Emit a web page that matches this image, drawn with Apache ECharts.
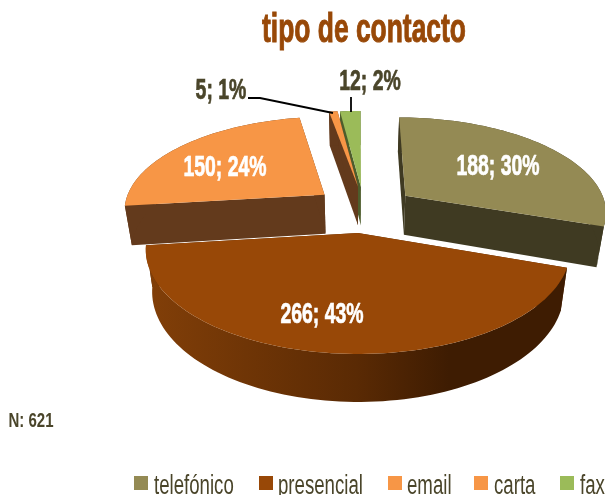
<!DOCTYPE html>
<html><head><meta charset="utf-8">
<style>html,body{margin:0;padding:0;background:#fff}#c{width:605px;height:495px}</style>
<script src="https://cdn.jsdelivr.net/npm/echarts@6/dist/echarts.min.js"></script>
</head><body><div id="c"></div>
<script>
const categories = ['telefónico','presencial','email','carta','fax'];
const values = [188,266,150,5,12];
const sampleSize = 'N: 621';
const chartTitle = 'tipo de contacto';

// styles
const topColors = ['#948a54','#984807','#f79646','#f79646','#9bbb59'];
const sideColors = ['#3f3a22','#5a2a04','#633a1c','#633a1c','#4d5d2c'];
const textDark = '#4a452a';
const fontName = '"Liberation Sans"';

// layout: projected pie disc
const cx=358, cy=233, rx=209.5, ry=101.6, persp=0.16;
// explosion of each slice on the disc plane [right, back]
const explode = [[0.24,0.39],[0,0],[-0.17,0.40],[0.0,0.49],[0.015,0.488]];
const labelPos = [[498,167],[322,315],[225,168],[221,91],[370,82]];
const labelFill = ['#fff','#fff','#fff',textDark,textDark];
const drawOrder = [4,3,2,0,1];
const leaderLines = {3:[[248,98],[260,98],[333,113]], 4:[[351,97],[351,112]]};
const legendSwatchX = [134,259,388,474,560];
const legendTextX = [154,278,407,494,580];

const total = values.reduce((a,b)=>a+b,0);
function sliceAngles(i){
  let s=0; for(let k=0;k<i;k++) s+=values[k];
  return [s/total*2*Math.PI,(s+values[i])/total*2*Math.PI];
}
function project(u,v){const w=1+persp*v;return [cx+rx*u/w,cy-ry*v/w];}
function lower(p){return [cx+(p[0]-cx)*0.97,p[1]+39+0.057*(p[1]-196)];}

function renderSlice(params){
  const i=categories.indexOf(params.seriesName);
  const [a0,a1]=sliceAngles(i), [du,dv]=explode[i];
  const n=Math.max(2,Math.ceil((a1-a0)/0.03));
  const arc=[];
  for(let k=0;k<=n;k++){const t=a0+(a1-a0)*k/n;arc.push(project(du+Math.sin(t),dv+Math.cos(t)));}
  const apex=project(du,dv);
  const low=arc.map(lower), apexLow=lower(apex);
  const side=sideColors[i];
  const wallFill = i===1 ? new echarts.graphic.LinearGradient(0,0,1,0,[
      {offset:0,color:'#823f08'},{offset:0.5,color:'#5a2a04'},{offset:0.72,color:'#3e1c02'},{offset:1,color:'#3e1c02'}]) : side;
  const poly=(pts,fill)=>({type:'polygon',shape:{points:pts},style:{fill}});
  const children=[
    poly([apex,arc[0],low[0],apexLow],side),
    poly([apex,arc[n],low[n],apexLow],side),
    poly(arc.concat(low.slice().reverse()),wallFill),
    poly([apex].concat(arc),topColors[i])
  ];
  if(leaderLines[i]) children.push({type:'polyline',shape:{points:leaderLines[i]},
    style:{fill:null,stroke:'#000',lineWidth:1.8},z2:20});
  const pct=Math.round(values[i]/total*100);
  children.push({type:'text',x:labelPos[i][0],y:labelPos[i][1],scaleX:0.67,z2:30,
    style:{text:values[i]+'; '+pct+'%',fill:labelFill[i],stroke:labelFill[i],lineWidth:0.7,
      font:'bold 29px '+fontName,align:'center',verticalAlign:'middle'}});
  return {type:'group',children};
}

const legendGraphics=[];
categories.forEach((name,i)=>{
  legendGraphics.push({type:'rect',shape:{x:legendSwatchX[i],y:476,width:14,height:14},style:{fill:topColors[i]}});
  legendGraphics.push({type:'text',x:legendTextX[i],y:500,scaleX:0.69,
    style:{text:name,fill:textDark,font:'27px '+fontName,align:'left',verticalAlign:'bottom'}});
});

const chart=echarts.init(document.getElementById('c'),null,{renderer:'canvas'});
chart.setOption({
  animation:false,
  graphic:[
    {type:'text',x:364,y:31,scaleX:0.66,style:{text:chartTitle,fill:'#984807',stroke:'#984807',lineWidth:1,font:'bold 40px '+fontName,align:'center',verticalAlign:'middle'}},
    {type:'text',x:31,y:421,scaleX:0.75,style:{text:sampleSize,fill:textDark,font:'bold 20px '+fontName,align:'center',verticalAlign:'middle'}}
  ].concat(legendGraphics),
  series:categories.map((name,i)=>({
    type:'custom',name,coordinateSystem:'none',renderItem:renderSlice,
    data:[values[i]],itemStyle:{color:topColors[i]},z:2+drawOrder.indexOf(i),silent:true
  }))
});
</script></body></html>
